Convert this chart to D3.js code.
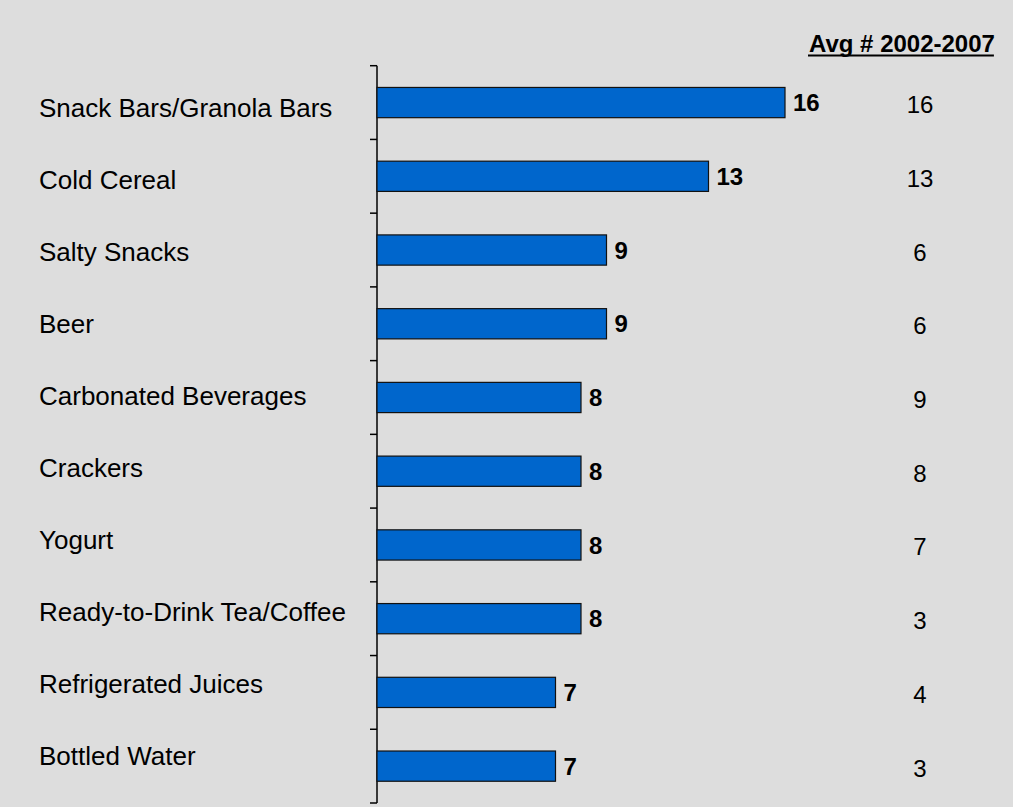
<!DOCTYPE html>
<html>
<head>
<meta charset="utf-8">
<script src="https://cdn.jsdelivr.net/npm/d3@7/dist/d3.min.js"></script>
<style>
    html, body { margin: 0; padding: 0; background: #dddddd; }
    #chart { width: 1013px; height: 807px; }
    text { font-family: Arial, "Liberation Sans", sans-serif; fill: #000; }
</style>
</head>
<body>
<div id="chart"></div>
<script>
//Datos
const categories = ['Snack Bars/Granola Bars', 'Cold Cereal', 'Salty Snacks', 'Beer', 'Carbonated Beverages',
    'Crackers', 'Yogurt', 'Ready-to-Drink Tea/Coffee', 'Refrigerated Juices', 'Bottled Water'];
const values2008 = [16, 13, 9, 9, 8, 8, 8, 8, 7, 7];
const avg20022007 = [16, 13, 6, 6, 9, 8, 7, 3, 4, 3];
const avgTitle = 'Avg # 2002-2007';

//Colores fijos
const COLOR_BAR = '#0066CC';

let data = categories.map(function(c, i) {
    return { name: c, value: values2008[i], avg: avg20022007[i] };
});

let width = 1013, height = 807;
let axisX = 377, axisTop = 65.7, axisBottom = 803;

let svg = d3.select('#chart')
    .append('svg')
        .attr('width', width)
        .attr('height', height);

let x = d3.scaleLinear()
    .domain([0, 16])
    .range([axisX, 785]);

let y = d3.scaleBand()
    .domain(categories)
    .range([axisTop, axisBottom])
    .padding(0);

//Las etiquetas de la izquierda van algo más juntas que las barras
let yLabel = d3.scalePoint()
    .domain(categories)
    .range([116.7, 765]);

let barH = y.bandwidth() * 0.41;

///// EJE
let axis = svg.append('g');
axis.append('line')
    .attr('x1', axisX).attr('x2', axisX)
    .attr('y1', axisTop).attr('y2', axisBottom)
    .attr('stroke', '#000').attr('stroke-width', 1.5);

let tickPos = categories.map(function(c) { return y(c); }).concat([axisBottom]);
axis.selectAll('.tick')
    .data(tickPos)
    .enter()
    .append('line')
    .attr('x1', axisX - 7).attr('x2', axisX)
    .attr('y1', function(d) { return d; })
    .attr('y2', function(d) { return d; })
    .attr('stroke', '#000').attr('stroke-width', 1.5);

///// BARRAS
svg.selectAll('.rect')
    .data(data)
    .enter()
    .append('rect')
    .attr('class', 'rect')
    .attr('x', x(0))
    .attr('y', function(d) { return y(d.name) + (y.bandwidth() - barH) / 2; })
    .attr('width', function(d) { return x(d.value) - x(0); })
    .attr('height', barH)
    .attr('fill', COLOR_BAR)
    .attr('stroke', '#111')
    .attr('stroke-width', 1.2);

//Etiquetas de categoría
svg.selectAll('.cat')
    .data(data)
    .enter()
    .append('text')
    .attr('x', 39)
    .attr('y', function(d) { return yLabel(d.name); })
    .style('font-size', '26px')
    .text(function(d) { return d.name; });

//Valores
svg.selectAll('.val')
    .data(data)
    .enter()
    .append('text')
    .attr('x', function(d) { return x(d.value) + 8; })
    .attr('y', function(d) { return y(d.name) + y.bandwidth() / 2 + 8.7; })
    .style('font-size', '24px')
    .style('font-weight', 'bold')
    .text(function(d) { return d.value; });

//Media 2002-2007
svg.selectAll('.avg')
    .data(data)
    .enter()
    .append('text')
    .attr('x', 920)
    .attr('y', function(d) { return y(d.name) + y.bandwidth() / 2 + 10.5; })
    .attr('text-anchor', 'middle')
    .style('font-size', '24px')
    .text(function(d) { return d.avg; });

let title = svg.append('text')
    .attr('x', 809)
    .attr('y', 52)
    .style('font-size', '24px')
    .style('font-weight', 'bold')
    .text(avgTitle);

let tw = title.node().getComputedTextLength();
svg.append('line')
    .attr('x1', 808).attr('x2', 808 + tw)
    .attr('y1', 55.5).attr('y2', 55.5)
    .attr('stroke', '#000').attr('stroke-width', 2);
</script>
</body>
</html>
